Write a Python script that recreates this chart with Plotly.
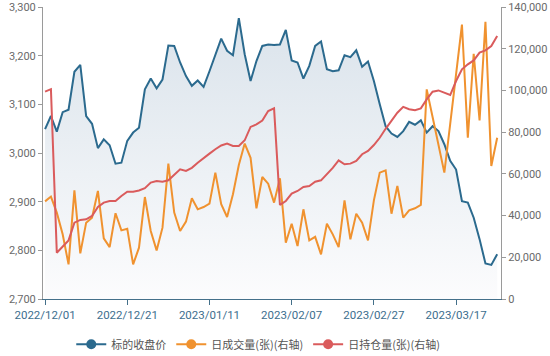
import plotly.graph_objects as go

dates = [
    "2022/12/01", "2022/12/02", "2022/12/05", "2022/12/06", "2022/12/07", "2022/12/08", "2022/12/09",
    "2022/12/12", "2022/12/13", "2022/12/14", "2022/12/15", "2022/12/16", "2022/12/19", "2022/12/20",
    "2022/12/21", "2022/12/22", "2022/12/23", "2022/12/26", "2022/12/27", "2022/12/28", "2022/12/29",
    "2022/12/30", "2023/01/03", "2023/01/04", "2023/01/05", "2023/01/06", "2023/01/09", "2023/01/10",
    "2023/01/11", "2023/01/12", "2023/01/13", "2023/01/16", "2023/01/17", "2023/01/18", "2023/01/19",
    "2023/01/20", "2023/01/30", "2023/01/31", "2023/02/01", "2023/02/02", "2023/02/03", "2023/02/06",
    "2023/02/07", "2023/02/08", "2023/02/09", "2023/02/10", "2023/02/13", "2023/02/14", "2023/02/15",
    "2023/02/16", "2023/02/17", "2023/02/20", "2023/02/21", "2023/02/22", "2023/02/23", "2023/02/24",
    "2023/02/27", "2023/02/28", "2023/03/01", "2023/03/02", "2023/03/03", "2023/03/06", "2023/03/07",
    "2023/03/08", "2023/03/09", "2023/03/10", "2023/03/13", "2023/03/14", "2023/03/15", "2023/03/16",
    "2023/03/17", "2023/03/20", "2023/03/21", "2023/03/22", "2023/03/23", "2023/03/24", "2023/03/27",
    "2023/03/28",
]

close_price = [
    3049, 3076, 3044, 3084, 3089, 3167, 3181, 3076, 3060, 3010,
    3028, 3016, 2978, 2980, 3025, 3042, 3052, 3131, 3153, 3133,
    3151, 3221, 3220, 3186, 3158, 3138, 3149, 3136, 3168, 3203,
    3235, 3210, 3201, 3277, 3203, 3148, 3189, 3220, 3223, 3222,
    3223, 3253, 3190, 3186, 3153, 3179, 3220, 3229, 3172, 3168,
    3170, 3201, 3197, 3211, 3177, 3188, 3148, 3100, 3055, 3040,
    3033, 3045, 3064, 3058, 3067, 3042, 3055, 3045, 3018, 2984,
    2966, 2901, 2898, 2867, 2823, 2773, 2770, 2792,
]

volume = [
    46800, 49100, 41400, 31000, 16600, 52100, 21900, 36600, 39000, 51800,
    29100, 24900, 41100, 32900, 33700, 16600, 24600, 48900, 32600, 23300,
    34200, 64900, 41400, 32600, 37100, 48300, 43000, 44100, 45700, 60600,
    45500, 39300, 50200, 64200, 74500, 67700, 43500, 58500, 55300, 46200,
    57900, 27000, 36100, 25400, 43000, 28100, 29800, 21400, 36100, 31000,
    24900, 47300, 28600, 40900, 36600, 28100, 47300, 60600, 61700, 40900,
    54200, 39000, 42500, 43500, 45100, 100500, 87300, 73800, 60600, 84000,
    108000, 131600, 77300, 117600, 85600, 132900, 63800, 77300,
]

open_interest = [
    99400, 100600, 22200, 25400, 28100, 36600, 37900, 38200, 39800, 44100,
    46200, 47000, 47000, 49400, 51400, 51400, 52000, 53100, 55800, 56600,
    56200, 56900, 59800, 62200, 61400, 62900, 65300, 67700, 69700, 71800,
    73600, 74500, 73400, 73400, 76100, 82500, 83700, 85600, 90100, 91400,
    45100, 47000, 50500, 51800, 53700, 54200, 56200, 56900, 59800, 62900,
    66500, 64600, 64900, 66200, 69400, 71000, 73800, 77300, 81600, 85600,
    89300, 92100, 91000, 90500, 91400, 95700, 99400, 100000, 98900, 97800,
    104500, 110100, 112500, 114400, 118100, 119200, 121300, 126100,
]

tick_dates = ["2022/12/01", "2022/12/21", "2023/01/11", "2023/02/07", "2023/02/27", "2023/03/17"]
names = ["标的收盘价", "日成交量(张)(右轴)", "日持仓量(张)(右轴)"]

BLUE = "#2b6a8e"
ORANGE = "#f0922f"
RED = "#da5b5c"
TICKFONT = "Roboto, Noto Sans, sans-serif"

fig = go.Figure()
fig.add_trace(go.Scatter(
    x=dates, y=close_price, mode="lines", line=dict(color=BLUE, width=2),
    fill="tozeroy",
    fillgradient=dict(type="vertical",
                      colorscale=[[0, "rgba(252,252,253,1)"], [1, "rgba(218,227,235,1)"]],
                      start=2700, stop=3280),
    showlegend=False, yaxis="y",
))
fig.add_trace(go.Scatter(
    x=dates, y=volume, mode="lines", line=dict(color=ORANGE, width=2),
    showlegend=False, yaxis="y2",
))
fig.add_trace(go.Scatter(
    x=dates, y=open_interest, mode="lines", line=dict(color=RED, width=2),
    showlegend=False, yaxis="y2",
))
for nm, col in zip(names, [BLUE, ORANGE, RED]):
    fig.add_trace(go.Scatter(
        x=[None], y=[None], mode="lines+markers", name=nm,
        line=dict(color=col, width=2), marker=dict(color=col, size=10),
    ))

fig.update_layout(
    width=550, height=356,
    margin=dict(l=43, r=49, t=7, b=57, autoexpand=False),
    paper_bgcolor="white", plot_bgcolor="white",
    font=dict(family="Noto Sans CJK SC, Noto Sans, sans-serif", size=11, color="#666666"),
    xaxis=dict(
        type="category", range=[-0.35, 77.65], automargin=False,
        tickmode="array", tickvals=tick_dates, ticktext=tick_dates,
        showgrid=False, zeroline=False,
        showline=True, linecolor="#44708a", linewidth=1,
        ticks="outside", ticklen=5, tickcolor="#44708a",
        tickfont=dict(color="#3d6e8e", size=11.5, family=TICKFONT),
    ),
    yaxis=dict(
        range=[2700, 3300], dtick=100, tickformat=",", automargin=False,
        showgrid=False, zeroline=False,
        showline=True, linecolor="#9a9a9a", linewidth=1,
        ticks="outside", ticklen=4, tickcolor="#9a9a9a",
        tickfont=dict(color="#6a6a6a", size=11, family=TICKFONT),
    ),
    yaxis2=dict(
        range=[0, 140000], dtick=20000, tickformat=",", automargin=False,
        overlaying="y", side="right",
        showgrid=False, zeroline=False,
        showline=True, linecolor="#9a9a9a", linewidth=1,
        ticks="outside", ticklen=4, tickcolor="#9a9a9a",
        tickfont=dict(color="#6a6a6a", size=11, family=TICKFONT),
    ),
    legend=dict(
        orientation="h", x=0.47, xanchor="center", y=-0.155, yanchor="middle",
        font=dict(size=11, color="#555555"), itemwidth=30,
        bgcolor="rgba(0,0,0,0)",
    ),
)

fig.write_html("out.html", config={"displayModeBar": False},
               post_script="document.body.style.margin='0';")
